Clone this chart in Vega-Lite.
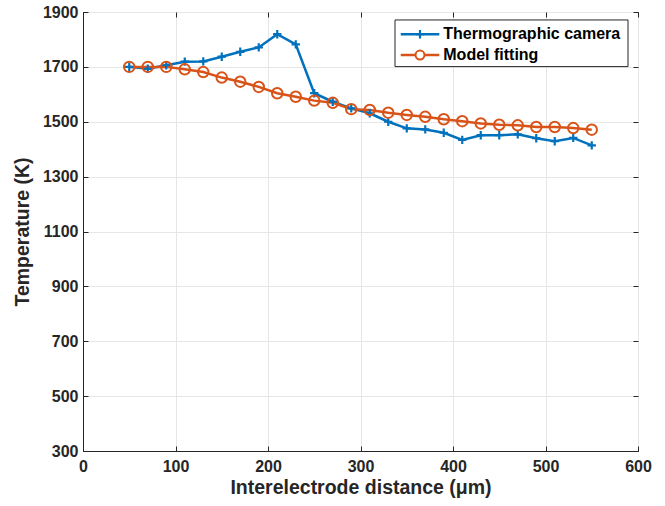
{
  "$schema": "https://vega.github.io/schema/vega-lite/v6.json",
  "width": 555,
  "height": 439,
  "autosize": {"type": "none"},
  "padding": {"left": 83, "top": 12, "right": 27, "bottom": 55},
  "background": "white",
  "config": {
    "font": "Liberation Sans",
    "view": {"stroke": "#262626", "strokeWidth": 1},
    "axis": {
      "labelFont": "Liberation Sans",
      "labelFontWeight": "bold",
      "labelFontSize": 16,
      "labelColor": "#262626",
      "titleFont": "Liberation Sans",
      "titleFontWeight": "bold",
      "titleFontSize": 19.5,
      "titleColor": "#262626",
      "domainColor": "#262626",
      "tickColor": "#262626",
      "gridColor": "#e6e6e6",
      "gridWidth": 1
    }
  },
  "datasets": {
    "series": [
      {"d": 50, "T": 1700, "s": "Thermographic camera"},
      {"d": 70, "T": 1693, "s": "Thermographic camera"},
      {"d": 90, "T": 1706, "s": "Thermographic camera"},
      {"d": 110, "T": 1719, "s": "Thermographic camera"},
      {"d": 130, "T": 1720, "s": "Thermographic camera"},
      {"d": 150, "T": 1737, "s": "Thermographic camera"},
      {"d": 170, "T": 1755, "s": "Thermographic camera"},
      {"d": 190, "T": 1771, "s": "Thermographic camera"},
      {"d": 210, "T": 1819, "s": "Thermographic camera"},
      {"d": 230, "T": 1782, "s": "Thermographic camera"},
      {"d": 250, "T": 1604, "s": "Thermographic camera"},
      {"d": 270, "T": 1573, "s": "Thermographic camera"},
      {"d": 290, "T": 1549, "s": "Thermographic camera"},
      {"d": 310, "T": 1531, "s": "Thermographic camera"},
      {"d": 330, "T": 1500, "s": "Thermographic camera"},
      {"d": 350, "T": 1476, "s": "Thermographic camera"},
      {"d": 370, "T": 1472, "s": "Thermographic camera"},
      {"d": 390, "T": 1460, "s": "Thermographic camera"},
      {"d": 410, "T": 1434, "s": "Thermographic camera"},
      {"d": 430, "T": 1451, "s": "Thermographic camera"},
      {"d": 450, "T": 1451, "s": "Thermographic camera"},
      {"d": 470, "T": 1454, "s": "Thermographic camera"},
      {"d": 490, "T": 1440, "s": "Thermographic camera"},
      {"d": 510, "T": 1429, "s": "Thermographic camera"},
      {"d": 530, "T": 1441, "s": "Thermographic camera"},
      {"d": 550, "T": 1414, "s": "Thermographic camera"},
      {"d": 50, "T": 1700, "s": "Model fitting"},
      {"d": 70, "T": 1700, "s": "Model fitting"},
      {"d": 90, "T": 1700, "s": "Model fitting"},
      {"d": 110, "T": 1691, "s": "Model fitting"},
      {"d": 130, "T": 1681, "s": "Model fitting"},
      {"d": 150, "T": 1661, "s": "Model fitting"},
      {"d": 170, "T": 1646, "s": "Model fitting"},
      {"d": 190, "T": 1627, "s": "Model fitting"},
      {"d": 210, "T": 1604, "s": "Model fitting"},
      {"d": 230, "T": 1591, "s": "Model fitting"},
      {"d": 250, "T": 1577, "s": "Model fitting"},
      {"d": 270, "T": 1569, "s": "Model fitting"},
      {"d": 290, "T": 1546, "s": "Model fitting"},
      {"d": 310, "T": 1543, "s": "Model fitting"},
      {"d": 330, "T": 1533, "s": "Model fitting"},
      {"d": 350, "T": 1525, "s": "Model fitting"},
      {"d": 370, "T": 1518, "s": "Model fitting"},
      {"d": 390, "T": 1509, "s": "Model fitting"},
      {"d": 410, "T": 1502, "s": "Model fitting"},
      {"d": 430, "T": 1494, "s": "Model fitting"},
      {"d": 450, "T": 1489, "s": "Model fitting"},
      {"d": 470, "T": 1487, "s": "Model fitting"},
      {"d": 490, "T": 1481, "s": "Model fitting"},
      {"d": 510, "T": 1481, "s": "Model fitting"},
      {"d": 530, "T": 1477, "s": "Model fitting"},
      {"d": 550, "T": 1471, "s": "Model fitting"}
    ]
  },
  "data": {"name": "series"},
  "resolve": {"axis": {"x": "independent", "y": "independent"}},
  "layer": [
    {
      "encoding": {
        "x": {
          "field": "d", "type": "quantitative",
          "scale": {"domain": [0, 600], "nice": false, "zero": false},
          "axis": {"title": "Interelectrode distance (μm)", "format": "d", "values": [0,100,200,300,400,500,600], "tickSize": -5, "labelPadding": 12, "titlePadding": 4, "labelFlush": false}
        },
        "y": {
          "field": "T", "type": "quantitative",
          "scale": {"domain": [300, 1900], "nice": false, "zero": false},
          "axis": {"title": "Temperature (K)", "format": "d", "values": [300,500,700,900,1100,1300,1500,1700,1900], "tickSize": -5, "labelPadding": 10, "titleX": -61, "titleBaseline": "middle", "labelFlush": false}
        },
        "color": {
          "field": "s", "type": "nominal",
          "scale": {"domain": ["Thermographic camera", "Model fitting"], "range": ["#0072BD", "#D95319"]},
          "legend": null
        }
      },
      "layer": [
        {
          "mark": {"type": "line", "strokeWidth": 2.5},
          "encoding": {"detail": {"field": "s"}}
        },
        {
          "transform": [{"filter": "datum.s === 'Thermographic camera'"}],
          "mark": {"type": "point", "shape": "M-1,0L1,0M0,-1L0,1", "filled": false, "size": 70, "strokeWidth": 2.2, "opacity": 1}
        },
        {
          "transform": [{"filter": "datum.s === 'Model fitting'"}],
          "mark": {"type": "point", "shape": "circle", "filled": false, "size": 110, "strokeWidth": 2, "opacity": 1}
        },
        {
          "data": {"values": [{"bx1": 337.3, "bx2": 589.2, "by1": 1871, "by2": 1701}]},
          "mark": {"type": "rect", "fill": "white", "stroke": "#262626", "strokeWidth": 1},
          "encoding": {
            "x": {"field": "bx1", "type": "quantitative"},
            "x2": {"field": "bx2"},
            "y": {"field": "by1", "type": "quantitative"},
            "y2": {"field": "by2"},
            "color": null
          }
        },
        {
          "data": {"values": [
            {"s": "Thermographic camera", "lx1": 343.5, "lx2": 385.2, "ly": 1819},
            {"s": "Model fitting", "lx1": 343.5, "lx2": 385.2, "ly": 1743}
          ]},
          "mark": {"type": "rule", "strokeWidth": 2.5},
          "encoding": {
            "x": {"field": "lx1", "type": "quantitative"},
            "x2": {"field": "lx2"},
            "y": {"field": "ly", "type": "quantitative"}
          }
        },
        {
          "data": {"values": [
            {"s": "Thermographic camera", "mx": 364.3, "ly": 1819}
          ]},
          "mark": {"type": "point", "shape": "M-1,0L1,0M0,-1L0,1", "filled": false, "size": 70, "strokeWidth": 2.2, "opacity": 1},
          "encoding": {
            "x": {"field": "mx", "type": "quantitative"},
            "y": {"field": "ly", "type": "quantitative"}
          }
        },
        {
          "data": {"values": [
            {"s": "Model fitting", "mx": 364.3, "ly": 1743}
          ]},
          "mark": {"type": "point", "shape": "circle", "filled": false, "fill": "white", "size": 80, "strokeWidth": 2, "opacity": 1},
          "encoding": {
            "x": {"field": "mx", "type": "quantitative"},
            "y": {"field": "ly", "type": "quantitative"}
          }
        },
        {
          "data": {"values": [
            {"label": "Thermographic camera", "tx": 389.5, "ly": 1819},
            {"label": "Model fitting", "tx": 389.5, "ly": 1743}
          ]},
          "mark": {"type": "text", "align": "left", "baseline": "middle", "fontSize": 16, "fontWeight": "bold", "font": "Liberation Sans"},
          "encoding": {
            "x": {"field": "tx", "type": "quantitative"},
            "y": {"field": "ly", "type": "quantitative"},
            "text": {"field": "label"},
            "color": {"value": "black"}
          }
        }
      ]
    },
    {
      "mark": {"type": "point", "opacity": 0},
      "encoding": {
        "x": {"field": "d", "type": "quantitative", "axis": {"orient": "top", "values": [0,100,200,300,400,500,600], "labels": false, "title": null, "grid": false, "domain": false, "tickSize": -5}},
        "y": {"field": "T", "type": "quantitative", "axis": {"orient": "right", "values": [300,500,700,900,1100,1300,1500,1700,1900], "labels": false, "title": null, "grid": false, "domain": false, "tickSize": -5}}
      }
    }
  ]
}
